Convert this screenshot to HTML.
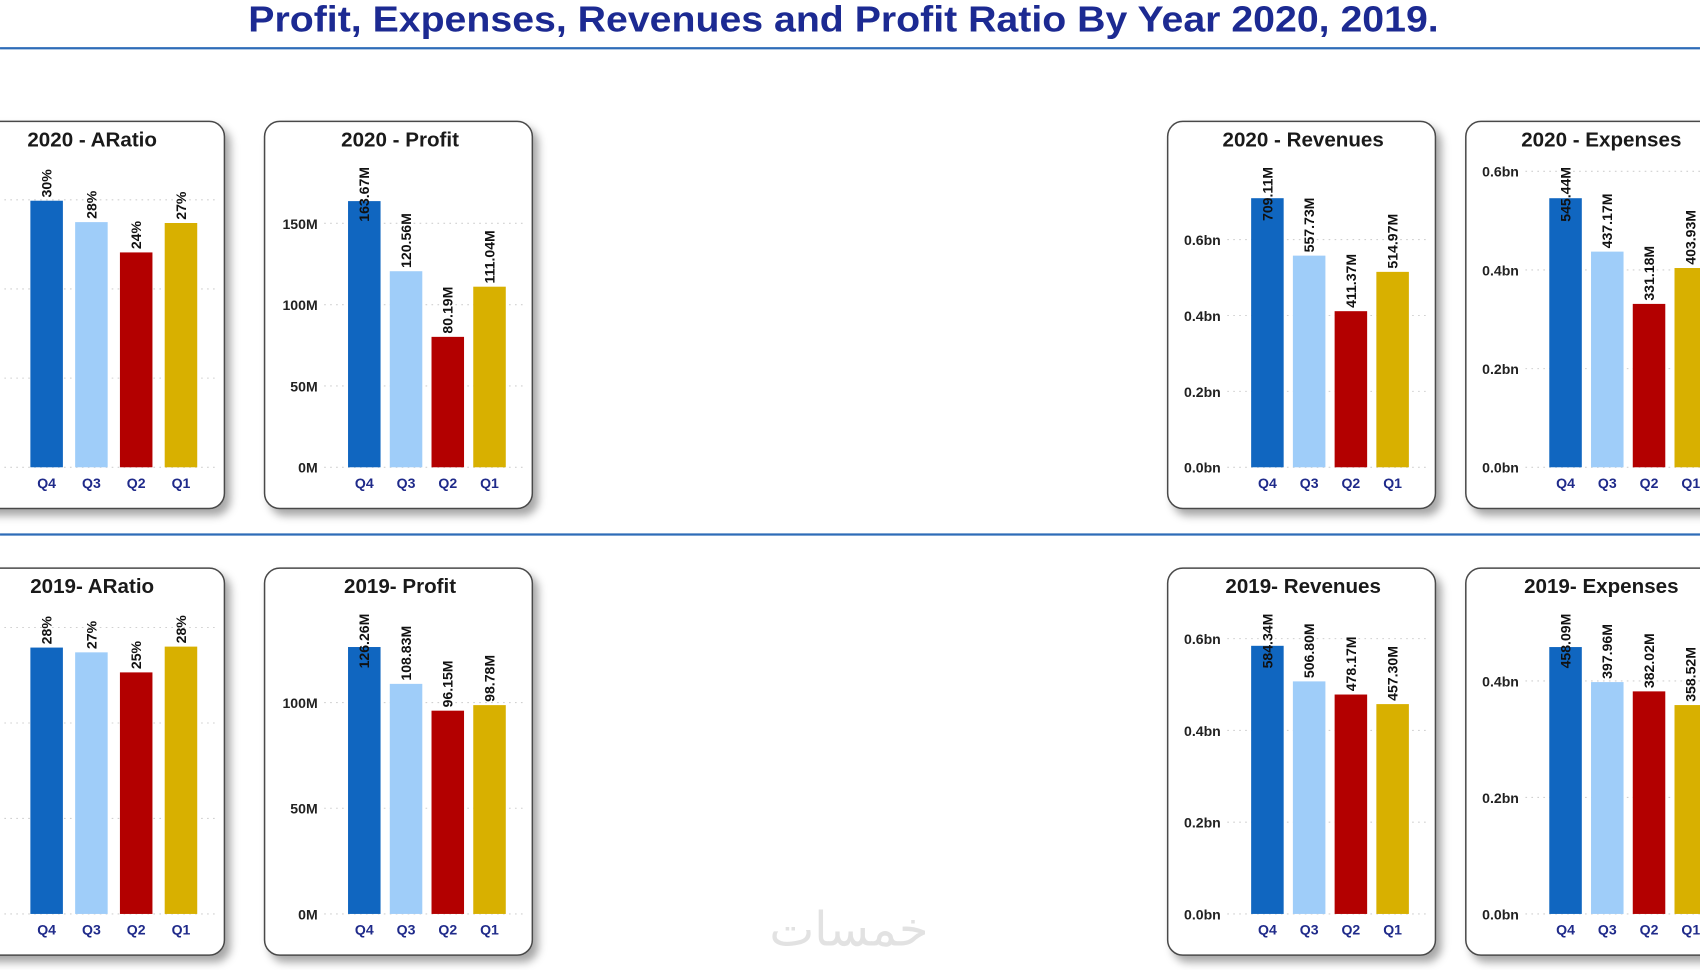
<!DOCTYPE html>
<html><head><meta charset="utf-8">
<style>
html,body{margin:0;padding:0;background:#fff;width:1700px;height:970px;overflow:hidden}
svg{display:block}
text{font-family:"Liberation Sans","DejaVu Sans",sans-serif}
</style></head>
<body>
<svg id="dash" width="1700" height="970" viewBox="0 0 1568 894.7">
  <defs>
    <filter id="sh" x="-10%" y="-10%" width="130%" height="130%">
      <feDropShadow dx="5" dy="6" stdDeviation="4" flood-color="#000" flood-opacity="0.35"/>
    </filter>
  </defs>
  <text x="778" y="29" text-anchor="middle" font-size="33" font-weight="bold" fill="#1c2a92" textLength="1098" lengthAdjust="spacingAndGlyphs">Profit, Expenses, Revenues and Profit Ratio By Year 2020, 2019.</text>
  <line x1="0" y1="44.5" x2="1568" y2="44.5" stroke="#2e6cb8" stroke-width="2"/>
  <line x1="0" y1="493" x2="1568" y2="493" stroke="#2e6cb8" stroke-width="2"/>
  <g id="charts"></g>
  <text x="783" y="872" text-anchor="middle" font-size="44" fill="#e2e2e2" font-family="'DejaVu Sans',sans-serif">خمسات</text>
</svg>
<script>
// Shared categories
const categories = ["Q4","Q3","Q2","Q1"];
// Series values
const ratio2020 = [29.9, 27.5, 24.1, 27.4];
const profit2020 = [163.67, 120.56, 80.19, 111.04];
const revenues2020 = [709.11, 557.73, 411.37, 514.97];
const expenses2020 = [545.44, 437.17, 331.18, 403.93];
const ratio2019 = [27.9, 27.4, 25.3, 28.0];
const profit2019 = [126.26, 108.83, 96.15, 98.78];
const revenues2019 = [584.34, 506.80, 478.17, 457.30];
const expenses2019 = [458.09, 397.96, 382.02, 358.52];
// Tick values
const ratioTicks = [0, 10, 20, 30];
const profit2020Ticks = [0, 50, 100, 150];
const profit2019Ticks = [0, 50, 100];
const revenues2020Ticks = [0, 200, 400, 600];
const expenses2020Ticks = [0, 200, 400, 600];
const revenues2019Ticks = [0, 200, 400, 600];
const expenses2019Ticks = [0, 200, 400];

const colors = ["#1066c0","#9fcdf9","#b30000","#d8b000"];
const NS = "http://www.w3.org/2000/svg";
const root = document.getElementById("charts");

function mk(tag, attrs, parent){
  const e = document.createElementNS(NS, tag);
  for (const k in attrs) e.setAttribute(k, attrs[k]);
  parent.appendChild(e);
  return e;
}
function fmtM(v){ return v.toFixed(2) + "M"; }
function fmtPct(v){ return Math.round(v) + "%"; }
function fmtTickM(v){ return v + "M"; }
function fmtTickBn(v){ return (v/1000).toFixed(1) + "bn"; }

// axisMax = value at plot top (plot height 273 units)
const charts = [
  {name:"2020 - ARatio", key:"ratio-2020", x:-40, y:112, vals:ratio2020, ticks:ratioTicks, axisMax:33.2, lab:fmtPct, tick:null, bx0:68, step:41.3, gx0:-40},
  {name:"2020 - Profit", key:"profit-2020", x:244, y:112, vals:profit2020, ticks:profit2020Ticks, axisMax:182, lab:fmtM, tick:fmtTickM},
  {name:"2020 - Revenues", key:"revenues-2020", x:1077, y:112, vals:revenues2020, ticks:revenues2020Ticks, axisMax:780, lab:fmtM, tick:fmtTickBn},
  {name:"2020 - Expenses", key:"expenses-2020", x:1352, y:112, vals:expenses2020, ticks:expenses2020Ticks, axisMax:600, lab:fmtM, tick:fmtTickBn},
  {name:"2019- ARatio", key:"ratio-2019", x:-40, y:524, vals:ratio2019, ticks:ratioTicks, axisMax:31.0, lab:fmtPct, tick:null, bx0:68, step:41.3, gx0:-40},
  {name:"2019- Profit", key:"profit-2019", x:244, y:524, vals:profit2019, ticks:profit2019Ticks, axisMax:140, lab:fmtM, tick:fmtTickM},
  {name:"2019- Revenues", key:"revenues-2019", x:1077, y:524, vals:revenues2019, ticks:revenues2019Ticks, axisMax:645, lab:fmtM, tick:fmtTickBn},
  {name:"2019- Expenses", key:"expenses-2019", x:1352, y:524, vals:expenses2019, ticks:expenses2019Ticks, axisMax:508, lab:fmtM, tick:fmtTickBn}
];

charts.forEach(c => {
  const g = mk("g", {}, root);
  
  
  const card = mk("rect", {x:c.x, y:c.y, width:247, height:357, rx:14, ry:14, fill:"#fff", stroke:"#4a4a4a", "stroke-width":1.4, filter:"url(#sh)"}, g);
  
  
  const t = mk("text", {x:c.x+125, y:c.y+23, "text-anchor":"middle", "font-size":19, "font-weight":"bold", fill:"#1a1a1a"}, g);
  t.textContent = c.name;
  
  

  const base = c.y + 319;
  const H = 273;
  const bx0 = c.bx0 || 77, step = c.step || 38.5;
  const gx0 = c.gx0 !== undefined ? c.gx0 : c.x + 55;
  const yScale = v => base - v / c.axisMax * H;
  const xBand = i => c.x + bx0 + i * step;

  c.ticks.forEach(tv => {
    const ty = yScale(tv);
    const gl = mk("line", {x1:gx0, x2:c.x+240, y1:ty, y2:ty, stroke:"#d0d0d0", "stroke-width":1, "stroke-dasharray":"1.5 4"}, g);
    
    
    if (c.tick) {
      const tl = mk("text", {x:c.x+49, y:ty+5, "text-anchor":"end", "font-size":13, "font-weight":"bold", fill:"#222"}, g);
      tl.textContent = c.tick(tv);
      
      
    }
  });

  c.vals.forEach((v, i) => {
    const bx = xBand(i), top = yScale(v);
    const b = mk("rect", {x:bx, y:top, width:30, height:base-top, fill:colors[i]}, g);
    
    
    const cl = mk("text", {x:bx+15, y:base+19, "text-anchor":"middle", "font-size":13, "font-weight":"bold", fill:"#1f2a8a"}, g);
    cl.textContent = categories[i];
    
    
    const lbl = mk("text", {"font-size":13, "font-weight":"bold", fill:"#111"}, g);
    lbl.textContent = c.lab(v);
    
    
    const len = lbl.getComputedTextLength();
    const minTop = c.y + 42;
    let sy = top - 3;
    if (sy - len < minTop) sy = minTop + len;
    lbl.setAttribute("transform", "translate(" + (bx+19.5) + "," + sy + ") rotate(-90)");
  });
});
</script>
</body></html>
